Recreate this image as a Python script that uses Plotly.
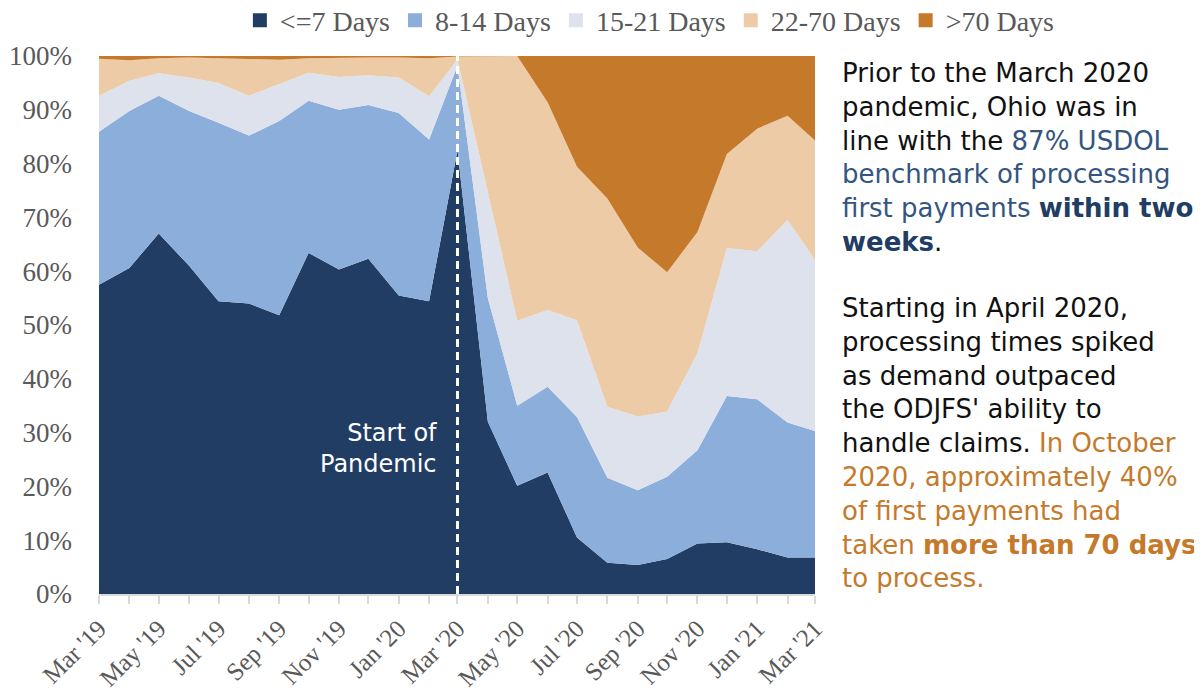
import plotly.graph_objects as go

months = ["2019-03-01", "2019-04-01", "2019-05-01", "2019-06-01", "2019-07-01", "2019-08-01",
          "2019-09-01", "2019-10-01", "2019-11-01", "2019-12-01", "2020-01-01", "2020-02-01",
          "2020-03-01", "2020-04-01", "2020-05-01", "2020-06-01", "2020-07-01", "2020-08-01",
          "2020-09-01", "2020-10-01", "2020-11-01", "2020-12-01", "2021-01-01", "2021-02-01",
          "2021-03-01"]

le7_days = [57.5, 60.6, 67.0, 61.0, 54.4, 54.0, 51.8, 63.4, 60.3, 62.3, 55.5, 54.4,
            82.5, 32.0, 20.1, 22.6, 10.5, 5.8, 5.4, 6.5, 9.4, 9.6, 8.3, 6.8, 6.8]
d8_14 = [28.4, 29.2, 25.6, 28.8, 33.2, 31.2, 36.1, 28.3, 29.7, 28.6, 33.9, 30.1,
         15.7, 23.0, 14.9, 15.9, 22.4, 15.8, 13.9, 15.3, 17.3, 27.2, 27.9, 25.1, 23.5]
d15_21 = [6.7, 5.6, 4.2, 6.2, 7.4, 7.4, 6.9, 5.2, 6.1, 5.5, 6.6, 8.0,
          1.2, 20.0, 15.8, 14.3, 18.0, 13.2, 13.7, 12.1, 18.1, 27.5, 27.5, 37.6, 31.8]
d22_70 = [6.9, 3.8, 2.8, 3.7, 4.6, 6.9, 4.5, 2.7, 3.6, 3.3, 3.7, 7.1,
          0.5, 25.0, 49.2, 38.6, 28.5, 38.7, 31.4, 25.9, 22.5, 17.5, 22.8, 19.4, 22.2]
gt70 = [0.5, 0.8, 0.4, 0.3, 0.4, 0.5, 0.7, 0.4, 0.3, 0.3, 0.3, 0.4,
        0.1, 0.0, 0.0, 8.6, 20.6, 26.5, 35.6, 40.2, 32.7, 18.2, 13.5, 11.1, 15.7]

series_names = ["<=7 Days", "8-14 Days", "15-21 Days", "22-70 Days", ">70 Days"]
series_values = [le7_days, d8_14, d15_21, d22_70, gt70]
colors = ["#213D63", "#8CAEDA", "#DDE2EC", "#ECCBA6", "#C5792B"]

pandemic_start = "2020-03-01"

fig = go.Figure()
for name, vals, col in zip(series_names, series_values, colors):
    fig.add_trace(go.Scatter(
        x=months, y=vals, name=name, mode="lines",
        stackgroup="one", groupnorm="percent",
        line=dict(width=0, color=col), fillcolor=col,
        showlegend=False, hoverinfo="skip"))
# legend markers
for name, col in zip(series_names, colors):
    fig.add_trace(go.Scatter(
        x=[None], y=[None], name=name, mode="markers",
        marker=dict(symbol="square", size=14, color=col), showlegend=True))

fig.add_shape(type="line", xref="x", yref="paper", x0=pandemic_start, x1=pandemic_start,
              y0=0, y1=1, line=dict(color="white", width=3, dash="8px,5px"))

fig.add_annotation(x=pandemic_start, xref="x", y=0.27, yref="paper",
                   xanchor="right", yanchor="middle", xshift=-18, align="right",
                   text="Start of<br>Pandemic", showarrow=False,
                   font=dict(family="DejaVu Sans", size=24, color="white"))

blue_t = "#34557F"
navy = "#213D63"
orange = "#C5792B"
p1 = ("Prior to the March 2020<br>pandemic, Ohio was in<br>line with the "
      f"<span style='color:{blue_t}'>87% USDOL</span><br>"
      f"<span style='color:{blue_t}'>benchmark of processing</span><br>"
      f"<span style='color:{blue_t}'>first payments </span><b><span style='color:{navy}'>within two</span></b><br>"
      f"<b><span style='color:{navy}'>weeks</span></b>.")
p2 = ("Starting in April 2020,<br>processing times spiked<br>as demand outpaced<br>"
      "the ODJFS' ability to<br>handle claims. "
      f"<span style='color:{orange}'>In October</span><br>"
      f"<span style='color:{orange}'>2020, approximately 40%</span><br>"
      f"<span style='color:{orange}'>of first payments had</span><br>"
      f"<span style='color:{orange}'>taken </span><b><span style='color:{orange}'>more than 70 days</span></b><br>"
      f"<span style='color:{orange}'>to process.</span>")
for txt, yy in [(p1, 1.0), (p2, 0.564)]:
    fig.add_annotation(x=1.035, xref="paper", y=yy, yref="paper", xanchor="left",
                       yanchor="top", align="left", text=txt, showarrow=False,
                       font=dict(family="DejaVu Sans", size=26, color="#111111"))

fig.update_layout(
    width=1194, height=685,
    margin=dict(l=91, r=387, t=48, b=99, autoexpand=False),
    plot_bgcolor="white", paper_bgcolor="white",
    showlegend=True,
    legend=dict(orientation="h", x=1.342, xanchor="right", y=1.066, yanchor="middle",
                traceorder="normal",
                font=dict(family="Liberation Serif", size=28, color="#595959"),
                itemwidth=30, tracegroupgap=0, bgcolor="rgba(0,0,0,0)"),
)
fig.update_xaxes(
    type="date", range=[months[0], months[-1]],
    tick0=months[0], dtick="M2", tickformat="%b '%y", tickangle=-45,
    ticks="outside", ticklen=8, tickcolor="#D9D9D9", tickwidth=2,
    minor=dict(dtick="M1", ticks="outside", ticklen=8, tickcolor="#D9D9D9", tickwidth=2),
    showline=True, linecolor="#D9D9D9", linewidth=2, showgrid=False,
    tickfont=dict(family="Liberation Serif", size=25, color="#595959"),
)
fig.update_yaxes(
    range=[0, 100], dtick=10, ticksuffix="%", showgrid=False, zeroline=False,
    showline=False, ticks="", ticklabelstandoff=26,
    tickfont=dict(family="Liberation Serif", size=27, color="#595959"),
)

fig.write_html("out.html")
